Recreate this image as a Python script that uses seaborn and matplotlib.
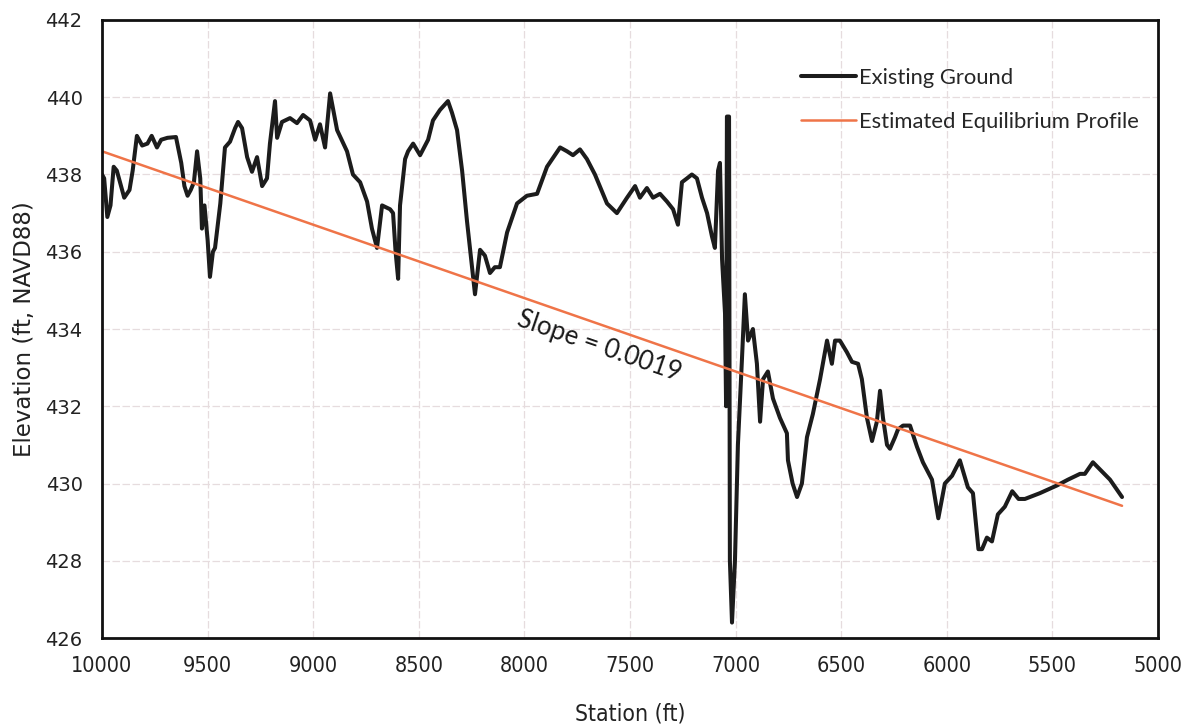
import numpy as np
import pandas as pd
import matplotlib
matplotlib.use("Agg")
import matplotlib.pyplot as plt
import seaborn as sns

# Existing ground profile along the channel (station in ft, elevation in ft NAVD88)
station = [
    10000, 9990, 9975, 9960, 9945, 9930, 9915, 9895, 9870, 9855, 9835, 9810,
    9785, 9765, 9740, 9720, 9690, 9650, 9625, 9610, 9595, 9580, 9565, 9550,
    9535, 9527, 9515, 9500, 9489, 9475, 9465, 9450, 9440, 9418, 9394, 9370,
    9356, 9337, 9313, 9290, 9266, 9242, 9219, 9205, 9181, 9171, 9148, 9110,
    9077, 9048, 9015, 8991, 8968, 8944, 8920, 8887, 8840, 8812, 8778, 8745,
    8722, 8698, 8674, 8636, 8622, 8610, 8598, 8589, 8565, 8551, 8527, 8494,
    8456, 8433, 8400, 8362, 8343, 8319, 8295, 8272, 8258, 8234, 8210, 8187,
    8163, 8140, 8116, 8082, 8035, 7988, 7940, 7893, 7831, 7798, 7770, 7737,
    7704, 7666, 7609, 7562, 7514, 7476, 7453, 7420, 7391, 7358, 7325, 7296,
    7273, 7254, 7230, 7207, 7183, 7159, 7135, 7112, 7098, 7083, 7074, 7064,
    7050, 7045, 7041, 7031, 7027, 7017, 7003, 6989, 6970, 6956, 6941, 6918,
    6899, 6884, 6870, 6847, 6823, 6790, 6757, 6752, 6730, 6709, 6686, 6662,
    6634, 6600, 6567, 6544, 6529, 6506, 6473, 6449, 6420, 6402, 6378, 6354,
    6331, 6316, 6302, 6283, 6269, 6245, 6231, 6207, 6174, 6141, 6113, 6070,
    6040, 6009, 5975, 5938, 5900, 5876, 5850, 5833, 5810, 5786, 5758, 5725,
    5690, 5660, 5630, 5559, 5478, 5426, 5369, 5346, 5308, 5227, 5170,
]
elevation = [
    438.0, 437.9, 436.9, 437.2, 438.2, 438.1, 437.8, 437.4, 437.6, 438.1, 439.0, 438.75,
    438.8, 439.0, 438.7, 438.9, 438.95, 438.97, 438.3, 437.7, 437.45, 437.6, 437.8, 438.6,
    437.9, 436.6, 437.2, 436.3, 435.35, 436.0, 436.1, 436.8, 437.25, 438.7, 438.85, 439.2,
    439.36, 439.2, 438.45, 438.07, 438.45, 437.7, 437.9, 438.8, 439.9, 438.95, 439.36, 439.46,
    439.33, 439.54, 439.4, 438.9, 439.3, 438.7, 440.1, 439.15, 438.6, 438.0, 437.8, 437.3,
    436.6, 436.1, 437.2, 437.1, 437.0, 436.0, 435.3, 437.2, 438.4, 438.6, 438.8, 438.5,
    438.9, 439.4, 439.67, 439.9, 439.6, 439.15, 438.1, 436.8, 436.1, 434.9, 436.05, 435.9,
    435.45, 435.6, 435.6, 436.5, 437.25, 437.45, 437.5, 438.2, 438.7, 438.6, 438.5, 438.65,
    438.4, 438.0, 437.25, 437.0, 437.4, 437.7, 437.4, 437.65, 437.4, 437.5, 437.3, 437.1,
    436.7, 437.8, 437.9, 438.0, 437.9, 437.4, 437.0, 436.4, 436.1, 438.1, 438.3, 435.8,
    434.4, 432.0, 439.5, 439.5, 428.0, 426.4, 428.0, 431.0, 433.2, 434.9, 433.7, 434.0,
    433.1, 431.6, 432.7, 432.9, 432.2, 431.7, 431.3, 430.6, 430.0, 429.65, 430.0, 431.2,
    431.8, 432.7, 433.7, 433.1, 433.7, 433.7, 433.4, 433.15, 433.1, 432.7, 431.7, 431.1,
    431.6, 432.4, 431.7, 431.0, 430.9, 431.2, 431.4, 431.5, 431.5, 430.95, 430.55, 430.1,
    429.1, 430.0, 430.2, 430.6, 429.9, 429.75, 428.3, 428.3, 428.6, 428.5, 429.2, 429.4,
    429.8, 429.6, 429.6, 429.75, 429.95, 430.1, 430.25, 430.25, 430.55, 430.1, 429.65,
]

# Estimated equilibrium profile: straight grade line
eq_station = [10000, 5170]
eq_start_elev = 438.6
eq_slope = 0.0019
eq_elevation = [eq_start_elev - eq_slope * (eq_station[0] - s) for s in eq_station]

x_ticks = [10000, 9500, 9000, 8500, 8000, 7500, 7000, 6500, 6000, 5500, 5000]
y_ticks = [426, 428, 430, 432, 434, 436, 438, 440, 442]

ground = pd.DataFrame({"Station": station, "Elevation": elevation})
equil = pd.DataFrame({"Station": eq_station, "Elevation": eq_elevation})

sns.set_theme(style="white")
plt.rcParams["font.family"] = ["DejaVu Sans"]

fig = plt.figure(figsize=(11.88, 7.27), dpi=100)
ax = fig.add_axes([0.0859, 0.1224, 0.8888, 0.8501])

sns.lineplot(data=ground, x="Station", y="Elevation", sort=False, ax=ax,
             color="#1c1c1c", linewidth=2.9, label="Existing Ground")
sns.lineplot(data=equil, x="Station", y="Elevation", sort=False, ax=ax,
             color="#ef7448", linewidth=1.8, label="Estimated Equilibrium Profile")

ax.set_xlim(10000, 5000)
ax.set_ylim(426, 442)
ax.set_xticks(x_ticks)
ax.set_yticks(y_ticks)
ax.set_xticklabels([str(t) for t in x_ticks], fontsize=15.5, family="DejaVu Sans",
                   fontstretch="condensed", color="#222222")
ax.set_yticklabels([str(t) for t in y_ticks], fontsize=14, color="#222222")
ax.tick_params(axis="y", length=0, pad=14)
ax.tick_params(axis="x", length=0, pad=13)

ax.grid(True, color="#e6dcde", linewidth=0.9, linestyle=(0, (6, 2)))
for sp in ax.spines.values():
    sp.set_color("#111111")
    sp.set_linewidth(2.0)

ax.set_xlabel("Station (ft)", fontsize=16.5, labelpad=19, family="DejaVu Sans",
              fontstretch="condensed", color="#222222")
ax.set_ylabel("Elevation (ft, NAVD88)", fontsize=16.5, labelpad=7, color="#222222")

ax.text(7647, 433.56, "Slope = 0.0019", rotation=-19, ha="center", va="center",
        fontsize=18.5, family=["Lato", "DejaVu Sans"], color="#1a1a1a",
        rotation_mode="anchor")

leg = ax.legend(loc="upper left", bbox_to_anchor=(0.643, 0.955), frameon=False,
                handlelength=2.5, handletextpad=0.15, labelspacing=1.1,
                prop={"family": ["Lato", "DejaVu Sans"], "size": 15.8})

fig.savefig("out.png", dpi=100, facecolor="white")
